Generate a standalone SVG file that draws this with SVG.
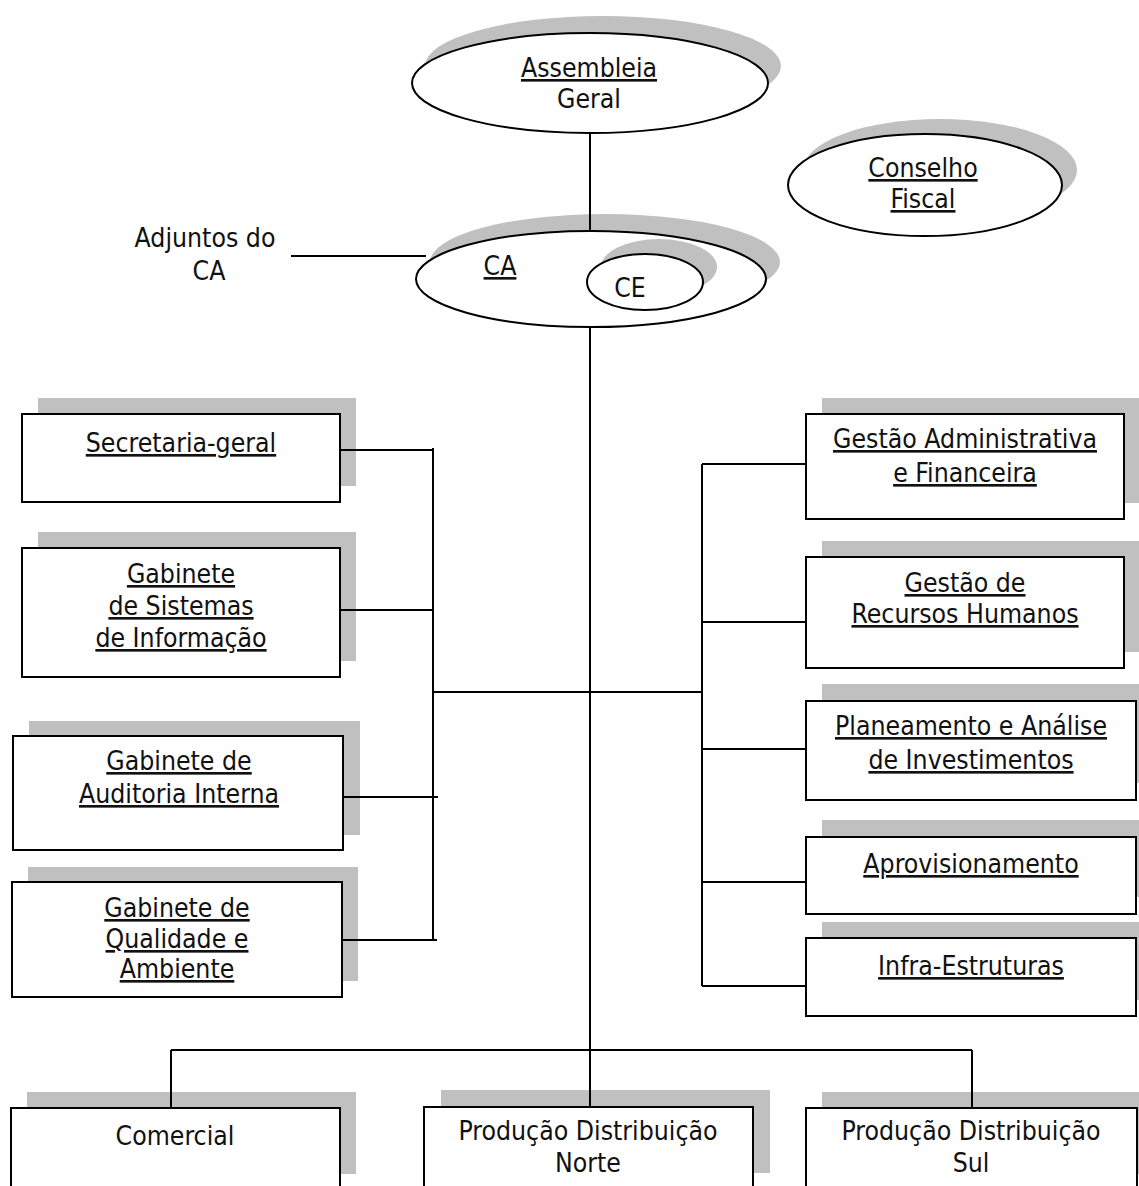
<svg xmlns="http://www.w3.org/2000/svg" width="1139" height="1186" viewBox="0 0 1139 1186">
  <style>
    .shadow { fill: #c0c0c0; }
    .shape { fill: #ffffff; stroke: #000000; stroke-width: 2; }
    .wire { fill: none; stroke: #000000; stroke-width: 2; }
    .lbl { font-family: "DejaVu Sans Condensed", "DejaVu Sans", sans-serif; font-stretch: condensed; font-size: 26.4px; fill: #111111; text-anchor: middle; }
    .u { text-decoration: underline; }
  </style>
  <rect width="1139" height="1186" fill="#ffffff"/>

  <!-- governing bodies -->
  <g id="assembleia-geral">
    <ellipse class="shadow" cx="603" cy="66" rx="178" ry="50"/>
    <ellipse class="shape" cx="590" cy="83" rx="178" ry="50"/>
    <text class="lbl u" x="589" y="77">Assembleia</text>
    <text class="lbl" x="589" y="108">Geral</text>
  </g>

  <g id="conselho-fiscal">
    <ellipse class="shadow" cx="940" cy="170" rx="137" ry="51"/>
    <ellipse class="shape" cx="925" cy="185" rx="137" ry="51"/>
    <text class="lbl u" x="923" y="177">Conselho</text>
    <text class="lbl u" x="923" y="208">Fiscal</text>
  </g>

  <g id="adjuntos-ca">
    <text class="lbl" x="205" y="247">Adjuntos do</text>
    <text class="lbl" x="209" y="280">CA</text>
  </g>

  <g id="ca">
    <ellipse class="shadow" cx="605" cy="262" rx="175" ry="48"/>
    <ellipse class="shape" cx="591" cy="279" rx="175" ry="48"/>
    <text class="lbl u" x="500" y="275">CA</text>
  </g>

  <g id="ce">
    <ellipse class="shadow" cx="659" cy="267" rx="58" ry="28"/>
    <ellipse class="shape" cx="645" cy="282" rx="58" ry="28"/>
    <text class="lbl" x="630" y="297">CE</text>
  </g>

  <!-- staff units, left -->
  <g id="secretaria-geral">
    <rect class="shadow" x="38" y="398" width="318" height="88"/>
    <rect class="shape" x="22" y="414" width="318" height="88"/>
    <text class="lbl u" x="181" y="452">Secretaria-geral</text>
  </g>

  <g id="gabinete-sistemas-informacao">
    <rect class="shadow" x="38" y="532" width="318" height="129"/>
    <rect class="shape" x="22" y="548" width="318" height="129"/>
    <text class="lbl u" x="181" y="583">Gabinete</text>
    <text class="lbl u" x="181" y="615">de Sistemas</text>
    <text class="lbl u" x="181" y="647">de Informação</text>
  </g>

  <g id="gabinete-auditoria-interna">
    <rect class="shadow" x="29" y="721" width="331" height="114"/>
    <rect class="shape" x="13" y="736" width="330" height="114"/>
    <text class="lbl u" x="179" y="770">Gabinete de</text>
    <text class="lbl u" x="179" y="803">Auditoria Interna</text>
  </g>

  <g id="gabinete-qualidade-ambiente">
    <rect class="shadow" x="28" y="867" width="330" height="114"/>
    <rect class="shape" x="12" y="882" width="330" height="115"/>
    <text class="lbl u" x="177" y="917">Gabinete de</text>
    <text class="lbl u" x="177" y="948">Qualidade e</text>
    <text class="lbl u" x="177" y="978">Ambiente</text>
  </g>

  <!-- functional departments, right -->
  <g id="gestao-administrativa-financeira">
    <rect class="shadow" x="822" y="398" width="318" height="105"/>
    <rect class="shape" x="806" y="414" width="318" height="105"/>
    <text class="lbl u" x="965" y="448">Gestão Administrativa</text>
    <text class="lbl u" x="965" y="482">e Financeira</text>
  </g>

  <g id="gestao-recursos-humanos">
    <rect class="shadow" x="822" y="541" width="318" height="111"/>
    <rect class="shape" x="806" y="557" width="318" height="111"/>
    <text class="lbl u" x="965" y="592">Gestão de</text>
    <text class="lbl u" x="965" y="623">Recursos Humanos</text>
  </g>

  <g id="planeamento-analise-investimentos">
    <rect class="shadow" x="822" y="684" width="330" height="99"/>
    <rect class="shape" x="806" y="701" width="330" height="99"/>
    <text class="lbl u" x="971" y="735">Planeamento e Análise</text>
    <text class="lbl u" x="971" y="769">de Investimentos</text>
  </g>

  <g id="aprovisionamento">
    <rect class="shadow" x="822" y="820" width="330" height="77"/>
    <rect class="shape" x="806" y="837" width="330" height="77"/>
    <text class="lbl u" x="971" y="873">Aprovisionamento</text>
  </g>

  <g id="infra-estruturas">
    <rect class="shadow" x="822" y="922" width="330" height="78"/>
    <rect class="shape" x="806" y="938" width="330" height="78"/>
    <text class="lbl u" x="971" y="975">Infra-Estruturas</text>
  </g>

  <!-- operating divisions, bottom -->
  <g id="comercial">
    <rect class="shadow" x="27" y="1092" width="329" height="82"/>
    <rect class="shape" x="11" y="1108" width="329" height="100"/>
    <text class="lbl" x="175" y="1145">Comercial</text>
  </g>

  <g id="producao-distribuicao-norte">
    <rect class="shadow" x="441" y="1090" width="329" height="83"/>
    <rect class="shape" x="424" y="1107" width="329" height="100"/>
    <text class="lbl" x="588" y="1140">Produção Distribuição</text>
    <text class="lbl" x="588" y="1172">Norte</text>
  </g>

  <g id="producao-distribuicao-sul">
    <rect class="shadow" x="822" y="1092" width="331" height="82"/>
    <rect class="shape" x="806" y="1108" width="331" height="100"/>
    <text class="lbl" x="971" y="1140">Produção Distribuição</text>
    <text class="lbl" x="971" y="1172">Sul</text>
  </g>

  <!-- connectors, drawn over the drop shadows -->
  <g id="connectors">
    <path class="wire" d="M590 133 V231"/>
    <path class="wire" d="M291 256 H426"/>
    <path class="wire" d="M590 327 V1107"/>
    <path class="wire" d="M433 448 V940"/>
    <path class="wire" d="M340 450 H433"/>
    <path class="wire" d="M340 610 H433"/>
    <path class="wire" d="M343 797 H438"/>
    <path class="wire" d="M342 940 H437"/>
    <path class="wire" d="M433 692 H702"/>
    <path class="wire" d="M702 464 V986"/>
    <path class="wire" d="M702 464 H806"/>
    <path class="wire" d="M702 622 H806"/>
    <path class="wire" d="M702 749 H806"/>
    <path class="wire" d="M702 882 H806"/>
    <path class="wire" d="M702 986 H806"/>
    <path class="wire" d="M171 1050 H972"/>
    <path class="wire" d="M171 1050 V1108"/>
    <path class="wire" d="M972 1050 V1108"/>
  </g>
</svg>
